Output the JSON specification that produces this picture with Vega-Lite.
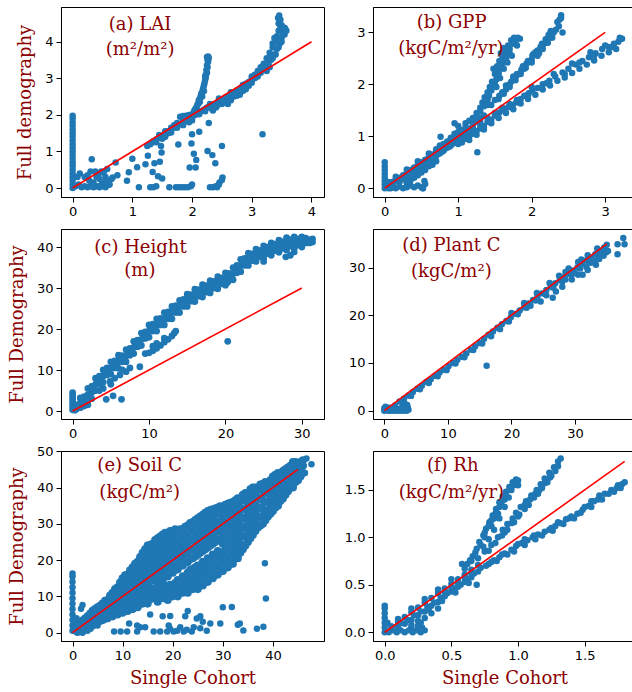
{
"$schema": "https://vega.github.io/schema/vega-lite/v6.json",
"autosize": "none",
"padding": {"left": 61, "top": 7, "right": 571, "bottom": 685},
"background": "white",
"config": {
 "view": {"stroke": "#000", "strokeWidth": 1},
 "axis": {"grid": false, "labelFont": "DejaVu Sans", "labelFontSize": 13, "labelColor": "#000", "tickColor": "#000", "domainColor": "#000", "tickSize": 5, "labelPadding": 3, "titleFont": "DejaVu Serif", "titleFontSize": 18, "titleFontWeight": "normal", "titleColor": "#8b0000", "labelFlush": false, "labelOverlap": false, "labelSeparation": 0},
 "axisX": {"titlePadding": 7, "labelOverlap": false},
 "axisY": {"titlePadding": 10, "labelOverlap": false},
 "axisLeft": {"labelOverlap": false},
 "circle": {"size": 42, "color": "#1f77b4", "opacity": 1},
 "text": {"font": "DejaVu Serif", "fontSize": 18, "color": "#8b0000", "align": "center", "baseline": "middle"},
 "rule": {"color": "#ff0000", "strokeWidth": 1.6}
},
"datasets": {
"a": [
{"x":0,"y":0},{"x":0,"y":0.1},{"x":0,"y":0.2},{"x":0,"y":0.3},{"x":0,"y":0.4},{"x":0,"y":0.5},{"x":0,"y":0.6},{"x":0,"y":0.7},{"x":0,"y":0.8},{"x":0,"y":0.9},{"x":0,"y":1.0},{"x":0,"y":1.1},{"x":0,"y":1.2},{"x":0,"y":1.3},{"x":0,"y":1.4},{"x":0,"y":1.5},{"x":0,"y":1.6},{"x":0,"y":1.7},{"x":0,"y":1.8},{"x":0,"y":1.9},{"x":0,"y":1.98},
{"x":0.12,"y":0.4},{"x":0.15,"y":0.02},{"x":0.2,"y":0.05},{"x":0.25,"y":0.02},{"x":0.3,"y":0.05},{"x":0.35,"y":0.02},{"x":0.4,"y":0.05},{"x":0.45,"y":0.02},{"x":0.5,"y":0.05},{"x":0.55,"y":0.02},{"x":0.6,"y":0.08},{"x":0.25,"y":0.35},{"x":0.3,"y":0.45},{"x":0.32,"y":0.79},{"x":0.35,"y":0.15},{"x":0.4,"y":0.3},{"x":0.43,"y":0.38},{"x":0.45,"y":0.25},{"x":0.5,"y":0.15},{"x":0.55,"y":0.3},{"x":0.58,"y":0.52},{"x":0.57,"y":0.2},{"x":0.62,"y":0.1},{"x":0.65,"y":0.25},{"x":0.67,"y":0.29},{"x":0.72,"y":0.7},{"x":0.75,"y":0.35},{"x":0.46,"y":0.06},{"x":0.2,"y":0.3},{"x":0.38,"y":0.45},{"x":0.48,"y":0.45},{"x":0.52,"y":0.42},{"x":0.1,"y":0.1},{"x":0.05,"y":0.05},{"x":0.08,"y":0.3},{"x":0.28,"y":0.2},
{"x":0.91,"y":0.2},{"x":0.94,"y":0.43},{"x":1.0,"y":0.8},{"x":1.08,"y":0.57},{"x":1.11,"y":0.02},{"x":1.22,"y":0.65},{"x":1.26,"y":0.88},{"x":1.34,"y":0.44},{"x":1.37,"y":0.68},{"x":1.43,"y":0.32},{"x":1.46,"y":0.72},{"x":1.48,"y":1.15},{"x":1.49,"y":0.97},{"x":1.5,"y":0.26},{"x":1.3,"y":0.02},{"x":1.35,"y":0.02},{"x":1.4,"y":0.05},{"x":1.62,"y":0.02},{"x":1.73,"y":0.02},{"x":1.78,"y":0.02},{"x":1.83,"y":0.02},{"x":1.88,"y":0.02},{"x":1.93,"y":0.02},{"x":1.98,"y":0.05},{"x":2.0,"y":0.1},{"x":1.77,"y":1.19},{"x":1.96,"y":0.56},{"x":2.06,"y":0.56},{"x":2.03,"y":0.94},{"x":2.07,"y":0.77},{"x":1.99,"y":1.22},{"x":2.0,"y":1.47},{"x":2.12,"y":1.54},{"x":2.28,"y":1.78},{"x":2.26,"y":1.01},{"x":2.34,"y":0.9},{"x":2.39,"y":0.68},{"x":2.5,"y":1.15},{"x":2.3,"y":0.02},{"x":2.35,"y":0.02},{"x":2.4,"y":0.05},{"x":2.45,"y":0.1},{"x":2.46,"y":0.15},{"x":2.5,"y":0.22},{"x":2.51,"y":0.29},{"x":2.42,"y":0.02},{"x":3.18,"y":1.47},
{"x":1.3,"y":1.2},{"x":1.35,"y":1.28},{"x":1.4,"y":1.33},{"x":1.45,"y":1.38},{"x":1.5,"y":1.42},{"x":1.55,"y":1.5},{"x":1.6,"y":1.55},{"x":1.65,"y":1.6},{"x":1.7,"y":1.65},{"x":1.75,"y":1.7},{"x":1.8,"y":1.75},{"x":1.85,"y":1.8},{"x":1.9,"y":1.85},{"x":1.95,"y":1.88},{"x":1.8,"y":1.95},{"x":1.85,"y":1.97},{"x":1.9,"y":1.98},{"x":1.95,"y":2.0},{"x":2.0,"y":1.9},{"x":2.0,"y":2.0},{"x":1.4,"y":1.25},{"x":1.6,"y":1.5},{"x":1.75,"y":1.65},{"x":1.95,"y":1.8},{"x":2.0,"y":1.85},
{"x":1.45,"y":1.45},{"x":1.55,"y":1.55},{"x":1.65,"y":1.65},{"x":1.7,"y":1.72},{"x":1.75,"y":1.78},{"x":1.85,"y":1.87},{"x":1.9,"y":1.92},{"x":1.5,"y":1.35},{"x":1.65,"y":1.52},{"x":1.85,"y":1.72},{"x":1.25,"y":1.15},{"x":1.35,"y":1.25},{"x":1.55,"y":1.4},
{"x":2.02,"y":2.05},{"x":2.04,"y":2.12},{"x":2.07,"y":2.2},{"x":2.1,"y":2.3},{"x":2.12,"y":2.42},{"x":2.15,"y":2.55},{"x":2.18,"y":2.69},{"x":2.2,"y":2.82},{"x":2.22,"y":2.96},{"x":2.23,"y":3.1},{"x":2.24,"y":3.23},{"x":2.25,"y":3.36},{"x":2.26,"y":3.5},{"x":2.27,"y":3.6},{"x":2.08,"y":2.15},{"x":2.13,"y":2.35},{"x":2.17,"y":2.5},{"x":2.2,"y":2.65},{"x":2.05,"y":2.05},
{"x":2.05,"y":2.15},{"x":2.09,"y":2.28},{"x":2.11,"y":2.38},{"x":2.14,"y":2.48},{"x":2.16,"y":2.6},{"x":2.19,"y":2.75},{"x":2.21,"y":2.88},{"x":2.23,"y":3.02},{"x":2.25,"y":3.15},{"x":2.26,"y":3.3},{"x":2.27,"y":3.45},{"x":2.28,"y":3.55},{"x":2.25,"y":3.58},{"x":2.22,"y":3.05},
{"x":2.05,"y":2.0},{"x":2.1,"y":2.05},{"x":2.15,"y":2.1},{"x":2.2,"y":2.15},{"x":2.25,"y":2.2},{"x":2.3,"y":2.22},{"x":2.35,"y":2.28},{"x":2.4,"y":2.3},{"x":2.45,"y":2.38},{"x":2.5,"y":2.42},{"x":2.55,"y":2.47},{"x":2.6,"y":2.5},{"x":2.65,"y":2.55},{"x":2.7,"y":2.6},{"x":2.75,"y":2.67},{"x":2.8,"y":2.72},{"x":2.85,"y":2.78},{"x":2.9,"y":2.85},{"x":2.95,"y":2.9},{"x":3.0,"y":2.98},{"x":2.35,"y":2.12},{"x":2.55,"y":2.35},{"x":2.6,"y":2.3},{"x":2.75,"y":2.52},{"x":2.8,"y":2.55},{"x":2.85,"y":2.65},{"x":2.95,"y":2.8},{"x":2.5,"y":2.3},{"x":2.7,"y":2.5},
{"x":2.12,"y":2.02},{"x":2.22,"y":2.1},{"x":2.32,"y":2.18},{"x":2.42,"y":2.25},{"x":2.52,"y":2.35},{"x":2.62,"y":2.45},{"x":2.72,"y":2.55},{"x":2.82,"y":2.68},{"x":2.92,"y":2.78},{"x":2.4,"y":2.2},{"x":2.65,"y":2.4},{"x":2.9,"y":2.7},{"x":3.0,"y":2.88},{"x":2.3,"y":2.3},{"x":2.45,"y":2.45},{"x":2.65,"y":2.62},{"x":2.85,"y":2.82},
{"x":3.0,"y":3.05},{"x":3.05,"y":3.1},{"x":3.1,"y":3.2},{"x":3.15,"y":3.3},{"x":3.2,"y":3.4},{"x":3.25,"y":3.55},{"x":3.3,"y":3.7},{"x":3.35,"y":3.85},{"x":3.4,"y":4.0},{"x":3.42,"y":4.15},{"x":3.45,"y":4.3},{"x":3.45,"y":4.5},{"x":3.44,"y":4.65},{"x":3.46,"y":4.72},{"x":3.48,"y":4.6},{"x":3.5,"y":4.45},{"x":3.53,"y":4.3},{"x":3.56,"y":4.35},{"x":3.58,"y":4.3},{"x":3.55,"y":4.2},{"x":3.5,"y":4.1},{"x":3.47,"y":3.95},{"x":3.42,"y":3.8},{"x":3.38,"y":3.65},{"x":3.32,"y":3.5},{"x":3.28,"y":3.4},{"x":3.22,"y":3.28},{"x":3.15,"y":3.15},{"x":3.1,"y":3.05},{"x":3.05,"y":3.0},{"x":3.35,"y":3.55},{"x":3.3,"y":3.3},{"x":3.25,"y":3.2},{"x":3.5,"y":4.0},{"x":3.52,"y":4.2},{"x":3.45,"y":3.85},{"x":3.4,"y":3.65},{"x":3.38,"y":4.1},{"x":3.35,"y":3.95},{"x":3.48,"y":4.4},{"x":3.5,"y":4.3},{"x":3.2,"y":3.3},{"x":3.3,"y":3.55},{"x":3.45,"y":4.1},{"x":3.55,"y":4.38}
],
"b": [
{"x":0,"y":0},{"x":0,"y":0.07},{"x":0,"y":0.14},{"x":0,"y":0.21},{"x":0,"y":0.28},{"x":0,"y":0.35},{"x":0,"y":0.42},{"x":0,"y":0.5},
{"x":0.05,"y":0.0},{"x":0.1,"y":0.02},{"x":0.15,"y":0.0},{"x":0.2,"y":0.03},{"x":0.25,"y":0.0},{"x":0.3,"y":0.02},{"x":0.35,"y":0.05},{"x":0.4,"y":0.02},{"x":0.45,"y":0.05},{"x":0.5,"y":0.02},{"x":0.52,"y":0.0},{"x":0.54,"y":0.14},{"x":0.55,"y":0.08},{"x":0.1,"y":0.08},{"x":0.05,"y":0.12},{"x":0.02,"y":0.03},{"x":0.08,"y":0.0},{"x":0.3,"y":0.1},{"x":0.35,"y":0.15},
{"x":0.1,"y":0.12},{"x":0.15,"y":0.17},{"x":0.2,"y":0.2},{"x":0.25,"y":0.25},{"x":0.3,"y":0.3},{"x":0.35,"y":0.35},{"x":0.4,"y":0.4},{"x":0.45,"y":0.45},{"x":0.5,"y":0.5},{"x":0.55,"y":0.55},{"x":0.6,"y":0.6},{"x":0.65,"y":0.65},{"x":0.7,"y":0.7},{"x":0.75,"y":0.75},{"x":0.8,"y":0.8},{"x":0.85,"y":0.85},{"x":0.9,"y":0.9},{"x":0.95,"y":0.95},{"x":1.0,"y":1.0},{"x":1.05,"y":1.05},{"x":1.1,"y":1.1},{"x":1.15,"y":1.15},
{"x":0.2,"y":0.12},{"x":0.25,"y":0.17},{"x":0.3,"y":0.2},{"x":0.35,"y":0.26},{"x":0.4,"y":0.3},{"x":0.45,"y":0.35},{"x":0.5,"y":0.4},{"x":0.55,"y":0.45},{"x":0.6,"y":0.5},{"x":0.65,"y":0.55},{"x":0.7,"y":0.62},{"x":0.75,"y":0.67},{"x":0.8,"y":0.72},{"x":0.85,"y":0.78},{"x":0.9,"y":0.82},{"x":0.95,"y":0.87},{"x":1.0,"y":0.92},{"x":1.05,"y":0.97},{"x":0.3,"y":0.12},{"x":0.4,"y":0.2},{"x":0.5,"y":0.3},{"x":0.6,"y":0.42},{"x":0.45,"y":0.25},{"x":0.55,"y":0.35},
{"x":0.15,"y":0.22},{"x":0.3,"y":0.36},{"x":0.45,"y":0.52},{"x":0.6,"y":0.67},{"x":0.75,"y":0.82},{"x":0.9,"y":0.97},{"x":1.05,"y":1.12},{"x":0.95,"y":1.25},{"x":1.0,"y":1.2},{"x":1.1,"y":1.25},{"x":1.15,"y":1.3},{"x":1.2,"y":1.25},{"x":0.76,"y":0.99},
{"x":0.12,"y":0.1},{"x":0.22,"y":0.18},{"x":0.32,"y":0.27},{"x":0.42,"y":0.36},{"x":0.52,"y":0.46},{"x":0.62,"y":0.56},{"x":0.72,"y":0.66},{"x":0.82,"y":0.76},{"x":0.92,"y":0.86},{"x":1.02,"y":0.96},{"x":1.12,"y":1.05},{"x":0.65,"y":0.45},{"x":0.7,"y":0.52},{"x":0.5,"y":0.35},{"x":0.85,"y":0.9},{"x":0.95,"y":1.05},{"x":1.1,"y":1.18},{"x":1.2,"y":1.2},{"x":1.25,"y":1.28},{"x":1.3,"y":1.35},{"x":1.35,"y":1.4},{"x":1.3,"y":1.28},
{"x":0.68,"y":0.58},{"x":0.78,"y":0.7},{"x":0.88,"y":0.8},{"x":0.98,"y":0.9},{"x":0.58,"y":0.47},{"x":0.48,"y":0.38},{"x":0.38,"y":0.28},{"x":0.8,"y":0.85},{"x":0.9,"y":0.95},{"x":1.0,"y":1.08},{"x":0.7,"y":0.75},
{"x":1.2,"y":1.35},{"x":1.25,"y":1.45},{"x":1.3,"y":1.55},{"x":1.33,"y":1.65},{"x":1.36,"y":1.75},{"x":1.4,"y":1.85},{"x":1.43,"y":1.95},{"x":1.46,"y":2.05},{"x":1.5,"y":2.2},{"x":1.53,"y":2.35},{"x":1.56,"y":2.45},{"x":1.6,"y":2.55},{"x":1.64,"y":2.65},{"x":1.68,"y":2.75},{"x":1.72,"y":2.85},{"x":1.76,"y":2.9},{"x":1.81,"y":2.9},{"x":1.45,"y":1.9},{"x":1.5,"y":2.05},{"x":1.55,"y":2.25},{"x":1.6,"y":2.4},{"x":1.65,"y":2.5},{"x":1.7,"y":2.6},{"x":1.35,"y":1.6},{"x":1.4,"y":1.7},{"x":1.78,"y":2.8},{"x":1.62,"y":2.7},{"x":1.58,"y":2.6},{"x":1.48,"y":2.3},
{"x":1.25,"y":1.38},{"x":1.3,"y":1.48},{"x":1.35,"y":1.58},{"x":1.38,"y":1.68},{"x":1.42,"y":1.78},{"x":1.45,"y":1.88},{"x":1.49,"y":1.98},{"x":1.52,"y":2.1},{"x":1.55,"y":2.2},{"x":1.58,"y":2.32},{"x":1.62,"y":2.45},{"x":1.66,"y":2.55},{"x":1.7,"y":2.68},{"x":1.74,"y":2.78},{"x":1.78,"y":2.88},{"x":1.52,"y":1.95},{"x":1.57,"y":2.12},{"x":1.62,"y":2.3},{"x":1.67,"y":2.42},{"x":1.73,"y":2.55},{"x":1.8,"y":2.75},{"x":1.84,"y":2.88},
{"x":1.4,"y":1.6},{"x":1.5,"y":1.7},{"x":1.56,"y":1.78},{"x":1.65,"y":1.9},{"x":1.72,"y":2.05},{"x":1.79,"y":2.16},{"x":1.86,"y":2.28},{"x":1.93,"y":2.4},{"x":2.01,"y":2.55},{"x":2.08,"y":2.65},{"x":2.14,"y":2.78},{"x":2.19,"y":2.87},{"x":2.23,"y":2.95},{"x":2.26,"y":3.03},{"x":2.3,"y":3.0},{"x":2.35,"y":3.2},{"x":2.38,"y":3.25},{"x":2.4,"y":3.33},{"x":2.2,"y":2.8},{"x":2.1,"y":2.6},{"x":2.0,"y":2.48},{"x":1.9,"y":2.3},{"x":1.8,"y":2.2},{"x":1.7,"y":2.0},{"x":1.6,"y":1.85},{"x":1.95,"y":2.45},{"x":2.05,"y":2.62},{"x":2.15,"y":2.75},{"x":1.75,"y":2.12},{"x":1.85,"y":2.22},{"x":2.25,"y":2.9},
{"x":1.45,"y":1.6},{"x":1.55,"y":1.72},{"x":1.62,"y":1.82},{"x":1.7,"y":1.95},{"x":1.78,"y":2.08},{"x":1.85,"y":2.2},{"x":1.92,"y":2.32},{"x":2.0,"y":2.42},{"x":2.08,"y":2.55},{"x":2.15,"y":2.68},{"x":2.22,"y":2.8},{"x":2.28,"y":2.9},{"x":2.33,"y":3.05},{"x":2.37,"y":3.12},{"x":1.65,"y":1.98},{"x":1.75,"y":2.15},{"x":1.88,"y":2.35},{"x":2.02,"y":2.58},{"x":2.12,"y":2.72},{"x":2.25,"y":2.98},{"x":2.4,"y":3.28},{"x":2.42,"y":3.0},
{"x":1.1,"y":0.95},{"x":1.15,"y":1.0},{"x":1.2,"y":1.05},{"x":1.25,"y":1.1},{"x":1.3,"y":1.15},{"x":1.35,"y":1.2},{"x":1.4,"y":1.28},{"x":1.45,"y":1.32},{"x":1.5,"y":1.4},{"x":1.56,"y":1.46},{"x":1.62,"y":1.5},{"x":1.68,"y":1.56},{"x":1.74,"y":1.6},{"x":1.79,"y":1.65},{"x":1.85,"y":1.72},{"x":1.9,"y":1.78},{"x":1.96,"y":1.83},{"x":2.01,"y":1.88},{"x":2.08,"y":1.93},{"x":2.15,"y":2.0},{"x":2.24,"y":2.07},{"x":2.32,"y":2.15},{"x":2.42,"y":2.23},{"x":2.5,"y":2.3},{"x":2.6,"y":2.38},{"x":2.69,"y":2.45},{"x":2.78,"y":2.52},{"x":2.87,"y":2.6},{"x":2.96,"y":2.68},{"x":3.05,"y":2.72},{"x":3.12,"y":2.78},{"x":3.18,"y":2.82},{"x":3.23,"y":2.88},{"x":3.1,"y":2.72},{"x":2.85,"y":2.55},{"x":2.65,"y":2.42},{"x":2.45,"y":2.2},{"x":2.2,"y":2.02},{"x":1.95,"y":1.8},{"x":1.7,"y":1.62},{"x":1.5,"y":1.45},{"x":1.3,"y":1.22},{"x":1.2,"y":1.12},{"x":1.0,"y":0.85},{"x":1.05,"y":0.88},
{"x":1.15,"y":0.93},{"x":1.25,"y":1.03},{"x":1.35,"y":1.13},{"x":1.45,"y":1.25},{"x":1.55,"y":1.35},{"x":1.65,"y":1.45},{"x":1.75,"y":1.52},{"x":1.85,"y":1.63},{"x":1.95,"y":1.72},{"x":2.05,"y":1.8},{"x":2.15,"y":1.9},{"x":2.25,"y":1.98},{"x":2.35,"y":2.07},{"x":2.45,"y":2.13},{"x":2.55,"y":2.22},{"x":2.65,"y":2.3},{"x":2.75,"y":2.38},{"x":2.85,"y":2.46},{"x":2.95,"y":2.55},{"x":3.05,"y":2.62},{"x":3.15,"y":2.68},{"x":1.4,"y":1.35},{"x":1.6,"y":1.55},{"x":1.8,"y":1.7},{"x":2.0,"y":1.95},{"x":2.3,"y":2.2},{"x":2.55,"y":2.4},{"x":2.8,"y":2.62},{"x":3.0,"y":2.75},{"x":3.2,"y":2.9},
{"x":1.26,"y":0.69},{"x":0.52,"y":0.0}
],
"c": [
{"x":0,"y":0.3},{"x":0,"y":1},{"x":0,"y":1.8},{"x":0,"y":2.5},{"x":0,"y":3.2},{"x":0,"y":3.9},{"x":0,"y":4.5},
{"x":0.5,"y":0.5},{"x":1,"y":0.8},{"x":1.5,"y":1.2},{"x":2,"y":1.5},{"x":1,"y":2},{"x":1.5,"y":3.5},{"x":2,"y":5.5},{"x":1.2,"y":1.5},{"x":0.5,"y":1.5},{"x":1,"y":3.2},{"x":0.3,"y":0.2},{"x":1.8,"y":2.5},{"x":2.5,"y":3},
{"x":2,"y":2.6},{"x":2,"y":4},{"x":2.5,"y":4.5},{"x":2.5,"y":6},
{"x":3,"y":5},{"x":3,"y":6.5},{"x":3,"y":8},{"x":3.5,"y":6.7},{"x":3.5,"y":8.5},
{"x":4,"y":7},{"x":4,"y":8.5},{"x":4,"y":10},{"x":4.5,"y":8.8},{"x":4.5,"y":10.5},
{"x":5,"y":9},{"x":5,"y":10.5},{"x":5,"y":12},{"x":5.5,"y":10.5},{"x":5.5,"y":12.2},
{"x":6,"y":10.4},{"x":6,"y":12},{"x":6,"y":13.6},{"x":6.5,"y":12},{"x":6.5,"y":13.5},
{"x":7,"y":12},{"x":7,"y":13.5},{"x":7,"y":15},{"x":7.5,"y":13.6},{"x":7.5,"y":15.3},
{"x":8,"y":14},{"x":8,"y":15.5},{"x":8,"y":17},{"x":8.5,"y":15.7},{"x":8.5,"y":17.3},
{"x":9,"y":16},{"x":9,"y":17.5},{"x":9,"y":19},{"x":9.5,"y":17.7},{"x":9.5,"y":19.3},
{"x":10,"y":18},{"x":10,"y":19.5},{"x":10,"y":21},{"x":10.5,"y":19.5},{"x":10.5,"y":21.2},
{"x":11,"y":19.5},{"x":11,"y":21},{"x":11,"y":22.5},{"x":11.5,"y":21},{"x":11.5,"y":22.6},
{"x":12,"y":21},{"x":12,"y":22.5},{"x":12,"y":24},{"x":12.5,"y":22.5},{"x":12.5,"y":24.2},
{"x":13,"y":22.5},{"x":13,"y":24},{"x":13,"y":25.5},{"x":13.5,"y":24},{"x":13.5,"y":25.7},
{"x":14,"y":24},{"x":14,"y":25.5},{"x":14,"y":27},{"x":14.5,"y":25.5},{"x":14.5,"y":27.2},
{"x":15,"y":25.5},{"x":15,"y":27},{"x":15,"y":28.5},{"x":15.5,"y":26.8},{"x":15.5,"y":28.4},
{"x":16,"y":26.7},{"x":16,"y":28.2},{"x":16,"y":29.7},{"x":16.5,"y":28},{"x":16.5,"y":29.6},
{"x":17,"y":27.8},{"x":17,"y":29.3},{"x":17,"y":30.8},{"x":17.5,"y":29},{"x":17.5,"y":30.6},
{"x":18,"y":28.8},{"x":18,"y":30.3},{"x":18,"y":31.8},{"x":18.5,"y":30},{"x":18.5,"y":31.6},
{"x":19,"y":29.8},{"x":19,"y":31.3},{"x":19,"y":32.8},{"x":19.5,"y":31},{"x":19.5,"y":32.5},
{"x":20,"y":30.7},{"x":20,"y":32.2},{"x":20,"y":33.7},{"x":20.5,"y":32},{"x":20.5,"y":33.6},
{"x":21,"y":32},{"x":21,"y":33.5},{"x":21,"y":35},{"x":21.5,"y":33.7},{"x":21.5,"y":35.5},
{"x":22,"y":34},{"x":22,"y":35.5},{"x":22,"y":37},{"x":22.5,"y":35.5},{"x":22.5,"y":37.2},
{"x":23,"y":35.5},{"x":23,"y":37},{"x":23,"y":38.5},{"x":23.5,"y":36.7},{"x":23.5,"y":38.3},
{"x":24,"y":36.5},{"x":24,"y":38},{"x":24,"y":39.5},{"x":24.5,"y":37.6},{"x":24.5,"y":39.2},
{"x":25,"y":37.3},{"x":25,"y":38.8},{"x":25,"y":40.3},{"x":25.5,"y":38.4},{"x":25.5,"y":40},
{"x":26,"y":38},{"x":26,"y":39.5},{"x":26,"y":41},{"x":26.5,"y":39.1},{"x":26.5,"y":40.7},
{"x":27,"y":38.7},{"x":27,"y":40.2},{"x":27,"y":41.7},{"x":27.5,"y":39.7},{"x":27.5,"y":41.3},
{"x":28,"y":39.3},{"x":28,"y":40.8},{"x":28,"y":42.3},{"x":28.5,"y":40.2},{"x":28.5,"y":41.8},
{"x":29,"y":39.7},{"x":29,"y":41.2},{"x":29,"y":42.5},{"x":29.5,"y":40.5},{"x":29.5,"y":42},
{"x":30,"y":40},{"x":30,"y":41.5},{"x":30,"y":42.5},{"x":30.5,"y":41},{"x":30.5,"y":42.2},
{"x":31,"y":41},{"x":31,"y":41.8},{"x":31.4,"y":42},{"x":31.4,"y":41.2},
{"x":3.25,"y":7.3},{"x":4.25,"y":9.3},{"x":5.25,"y":11.3},{"x":6.25,"y":12.8},{"x":7.25,"y":14.3},{"x":8.25,"y":16.3},{"x":9.25,"y":18.3},{"x":10.25,"y":20.2},{"x":11.25,"y":21.8},{"x":12.25,"y":23.3},{"x":13.25,"y":24.8},{"x":14.25,"y":26.3},{"x":15.25,"y":27.7},{"x":16.25,"y":28.9},{"x":17.25,"y":29.9},{"x":18.25,"y":30.9},{"x":19.25,"y":31.8},{"x":20.25,"y":32.9},{"x":21.25,"y":34.5},{"x":22.25,"y":36.3},{"x":23.25,"y":37.5},{"x":24.25,"y":38.4},{"x":25.25,"y":39.2},{"x":26.25,"y":39.9},{"x":27.25,"y":40.5},{"x":28.25,"y":41.1},{"x":29.25,"y":41.4},{"x":30.25,"y":41.8},
{"x":3.75,"y":7.2},{"x":4.75,"y":9.2},{"x":5.75,"y":10.8},{"x":6.75,"y":12.4},{"x":7.75,"y":14},{"x":8.75,"y":16},{"x":9.75,"y":18},{"x":10.75,"y":19.8},{"x":11.75,"y":21.3},{"x":12.75,"y":22.8},{"x":13.75,"y":24.3},{"x":14.75,"y":25.8},{"x":15.75,"y":27.2},{"x":16.75,"y":28.4},{"x":17.75,"y":29.4},{"x":18.75,"y":30.4},{"x":19.75,"y":31.4},{"x":20.75,"y":32.5},{"x":21.75,"y":34.2},{"x":22.75,"y":35.9},{"x":23.75,"y":37.1},{"x":24.75,"y":38},{"x":25.75,"y":38.8},{"x":26.75,"y":39.5},{"x":27.75,"y":40.2},{"x":28.75,"y":40.7},{"x":29.75,"y":41},
{"x":27.9,"y":37.6},{"x":29,"y":38.8},{"x":25,"y":36.5},{"x":28.5,"y":38},{"x":20.3,"y":31.4},{"x":20.3,"y":17},{"x":8.8,"y":10.8},{"x":4.4,"y":2.85},{"x":5.3,"y":3.7},{"x":6.4,"y":2.85},
{"x":9.5,"y":14},{"x":10,"y":14.2},{"x":10.5,"y":14.7},{"x":11,"y":15.3},{"x":11.5,"y":16},{"x":12,"y":16.8},{"x":12.5,"y":17.5},{"x":13,"y":18.3},{"x":13.3,"y":19},{"x":13.5,"y":19.5},{"x":11,"y":16.5},{"x":12,"y":17.8},{"x":10.5,"y":15.8},
{"x":3.6,"y":7.2},{"x":4.9,"y":7.2},{"x":5.5,"y":8},{"x":6.2,"y":8.8},{"x":7,"y":9.6},{"x":7.5,"y":10.5},{"x":6.5,"y":10},{"x":4,"y":5.5},{"x":3.5,"y":5},{"x":5,"y":6.5}
],
"d": [
{"x":1,"y":0.6},{"x":1.7,"y":1.1},{"x":2.4,"y":1.9},{"x":3.1,"y":2.5},{"x":3.8,"y":3.2},{"x":4.5,"y":3.9},{"x":5.2,"y":4.6},{"x":5.9,"y":5.2},{"x":6.6,"y":6.0},{"x":7.3,"y":6.6},{"x":8,"y":7.3},{"x":8.7,"y":8.0},{"x":9.4,"y":8.6},{"x":10.1,"y":9.3},{"x":10.8,"y":10.0},{"x":11.5,"y":10.7},{"x":12.2,"y":11.3},{"x":12.9,"y":12.0},{"x":13.6,"y":12.8},{"x":14.3,"y":13.5},{"x":15,"y":14.2},{"x":15.7,"y":15.1},{"x":16.4,"y":15.9},{"x":17.1,"y":16.6},{"x":17.8,"y":17.4},{"x":18.5,"y":18.1},{"x":19.2,"y":18.8},{"x":19.9,"y":19.6},{"x":20.6,"y":20.3},{"x":21.3,"y":21.0},{"x":22,"y":21.7},{"x":22.7,"y":22.5},{"x":23.4,"y":23.2},{"x":24.1,"y":23.9},{"x":24.8,"y":24.6},{"x":25.5,"y":25.3},{"x":26.2,"y":26.0},{"x":26.9,"y":26.7},{"x":27.6,"y":27.4},{"x":28.3,"y":28.0},{"x":29,"y":28.7},{"x":29.7,"y":29.4},{"x":30.4,"y":30.1},{"x":31.1,"y":30.8},{"x":31.8,"y":31.5},{"x":32.5,"y":32.1},{"x":33.2,"y":32.8},{"x":33.9,"y":33.5},{"x":34.6,"y":34.2},{"x":35,"y":34.8},
{"x":1.4,"y":0.5},{"x":2.8,"y":1.8},{"x":4.2,"y":3.1},{"x":5.6,"y":4.5},{"x":7,"y":5.8},{"x":8.4,"y":7.2},{"x":9.8,"y":8.5},{"x":11.2,"y":9.9},{"x":12.6,"y":11.2},{"x":14,"y":12.7},{"x":15.4,"y":14.1},{"x":16.8,"y":15.6},{"x":18.2,"y":17.1},{"x":19.6,"y":18.7},{"x":21,"y":20.2},{"x":22.4,"y":21.6},{"x":23.8,"y":23.1},{"x":25.2,"y":24.5},{"x":26.6,"y":25.8},{"x":28,"y":27.1},{"x":29.4,"y":28.5},{"x":30.8,"y":29.8},{"x":32.2,"y":31.2},{"x":33.6,"y":32.6},{"x":34.3,"y":33.5},
{"x":20,"y":20.5},{"x":22,"y":22.6},{"x":24,"y":24.7},{"x":26,"y":26.8},{"x":27.5,"y":28.3},{"x":29,"y":29.8},{"x":30.5,"y":31.2},{"x":32,"y":32.6},{"x":33.5,"y":34},{"x":31,"y":31.7},{"x":28.5,"y":29.1},
{"x":24.6,"y":22.9},{"x":26.5,"y":23.7},{"x":27,"y":25},{"x":28,"y":26},{"x":28.5,"y":27.5},{"x":29.5,"y":27.5},{"x":30.5,"y":28.5},{"x":31.2,"y":28.5},{"x":32,"y":29.5},{"x":33.3,"y":30.6},{"x":32.5,"y":31},{"x":33,"y":31.5},{"x":34,"y":33},{"x":34.5,"y":32.5},{"x":35.2,"y":33.5},{"x":34.9,"y":33.2},{"x":36.7,"y":32.8},{"x":36.7,"y":34.9},{"x":37.8,"y":34.9},{"x":37.6,"y":36.2},{"x":23,"y":22},{"x":25.5,"y":24.2},{"x":30,"y":28.8},{"x":31.8,"y":30.2},{"x":33.8,"y":31.8},
{"x":16.1,"y":9.4},
{"x":0,"y":0},{"x":0,"y":0.5},{"x":0.3,"y":0.2},{"x":0.6,"y":0},{"x":1,"y":0},{"x":1.5,"y":0},{"x":2,"y":0},{"x":2.5,"y":0},{"x":3,"y":0},{"x":3.5,"y":0},{"x":3.8,"y":0.2},{"x":3.7,"y":0.6},{"x":3.6,"y":1.2},{"x":3.2,"y":1.5},{"x":2.8,"y":0.7},{"x":1.2,"y":0.3},{"x":0.5,"y":0.6},{"x":0.2,"y":0.8},{"x":2.2,"y":0.3},{"x":3.3,"y":0.4}
],
"eo": [
{"x":0,"y":0.5},{"x":0,"y":2},{"x":0,"y":3.5},{"x":0,"y":5},{"x":0,"y":6.5},{"x":0,"y":8},{"x":0,"y":9.5},{"x":0,"y":11},{"x":0,"y":12.5},{"x":0,"y":14},{"x":0,"y":15.5},{"x":0,"y":16.3},
{"x":0.5,"y":0.5},{"x":1,"y":1},{"x":1,"y":2.5},{"x":1.5,"y":0.5},{"x":2,"y":0},{"x":3,"y":0.5},{"x":0.8,"y":4},{"x":0.5,"y":3},
{"x":46.7,"y":48},{"x":47.7,"y":46.4},{"x":46.4,"y":44},{"x":34.8,"y":28.8},{"x":35.4,"y":28.3},{"x":33.8,"y":31.6},{"x":36,"y":27.5},
{"x":8.3,"y":0.3},{"x":9.6,"y":0.3},{"x":10.9,"y":0.3},{"x":12.9,"y":0.3},{"x":13.5,"y":1.5},{"x":16.2,"y":0.3},{"x":17.5,"y":0.3},{"x":18.9,"y":0.3},{"x":19.5,"y":1},{"x":20.2,"y":0.3},{"x":20.9,"y":0.5},{"x":22.2,"y":0.3},{"x":22.8,"y":0.8},{"x":23.8,"y":0.3},{"x":24.2,"y":1.5},{"x":25.5,"y":1.2},{"x":26.8,"y":0.5},{"x":11.3,"y":2.5},{"x":12.9,"y":2},{"x":19.2,"y":2},{"x":19.5,"y":4.6},{"x":24.8,"y":3.9},{"x":25.5,"y":4.5},{"x":23,"y":6},{"x":22.5,"y":4.5},{"x":18,"y":4.5},{"x":15.5,"y":5},{"x":29.5,"y":2.5},{"x":31.8,"y":7.1},{"x":33.4,"y":2.5},{"x":34.1,"y":0.6},{"x":36.8,"y":1.1},{"x":38.1,"y":1.6},{"x":38.6,"y":9.4},{"x":38.4,"y":19.1},{"x":2,"y":7.6},{"x":1.7,"y":6.6},{"x":5,"y":2},{"x":3.6,"y":1.1},{"x":30,"y":7},{"x":33,"y":2.2},{"x":27.5,"y":2.5},{"x":26,"y":3},{"x":14.5,"y":1.5},{"x":21.5,"y":1.5}
],
"e": [
{"x":1,"y":0.2},{"x":1,"y":1.5},{"x":2,"y":0.5},{"x":2,"y":2},{"x":2,"y":3.3},{"x":3,"y":1.5},{"x":3,"y":3},{"x":3,"y":4.5},{"x":4,"y":2},{"x":4,"y":4},{"x":4,"y":6},{"x":5,"y":3},{"x":5,"y":5},{"x":5,"y":7},{"x":6,"y":3.5},{"x":6,"y":5.7},{"x":6,"y":8},{"x":7,"y":4},{"x":7,"y":6.5},{"x":7,"y":9},{"x":8,"y":4.5},{"x":8,"y":7},{"x":8,"y":9.5},{"x":8,"y":11},{"x":9,"y":5},{"x":9,"y":7.5},{"x":9,"y":10},{"x":9,"y":12.5},
{"x":10,"y":5.5},{"x":10,"y":8},{"x":10,"y":10.5},{"x":10,"y":13},{"x":10,"y":15},{"x":11,"y":6},{"x":11,"y":8.5},{"x":11,"y":11},{"x":11,"y":13.5},{"x":11,"y":16},{"x":12,"y":6.5},{"x":12,"y":9},{"x":12,"y":11.5},{"x":12,"y":14},{"x":12,"y":16.5},{"x":12,"y":18},{"x":13,"y":7},{"x":13,"y":9.5},{"x":13,"y":12},{"x":13,"y":14.5},{"x":13,"y":17},{"x":13,"y":19.5},
{"x":14,"y":8},{"x":14,"y":10.5},{"x":14,"y":13},{"x":14,"y":15.5},{"x":14,"y":18},{"x":14,"y":20.5},{"x":14,"y":22},{"x":15,"y":8},{"x":15,"y":10.5},{"x":15,"y":13},{"x":15,"y":15.5},{"x":15,"y":18},{"x":15,"y":20.5},{"x":15,"y":23},{"x":15,"y":24},{"x":16,"y":9.5},{"x":16,"y":12},{"x":16,"y":14.5},{"x":16,"y":17},{"x":16,"y":19.5},{"x":16,"y":22},{"x":16,"y":24.5},
{"x":17,"y":8.5},{"x":17,"y":10.5},{"x":17,"y":13.5},{"x":17,"y":16},{"x":17,"y":18.5},{"x":17,"y":21},{"x":17,"y":23.5},{"x":17,"y":26},{"x":18,"y":9.5},{"x":18,"y":11.5},{"x":18,"y":14.5},{"x":18,"y":17},{"x":18,"y":19.5},{"x":18,"y":22},{"x":18,"y":24.5},{"x":18,"y":27},{"x":19,"y":9},{"x":19,"y":11.5},{"x":19,"y":15.5},{"x":19,"y":18},{"x":19,"y":20.5},{"x":19,"y":23},{"x":19,"y":25.5},{"x":19,"y":27.5},
{"x":20,"y":10},{"x":20,"y":12.5},{"x":20,"y":16.5},{"x":20,"y":19},{"x":20,"y":21.5},{"x":20,"y":24},{"x":20,"y":26.5},{"x":20,"y":28},{"x":21,"y":10},{"x":21,"y":12.5},{"x":21,"y":14.5},{"x":21,"y":17.5},{"x":21,"y":20},{"x":21,"y":22.5},{"x":21,"y":25},{"x":21,"y":27.5},{"x":22,"y":11},{"x":22,"y":13.5},{"x":22,"y":15.5},{"x":22,"y":18.5},{"x":22,"y":21},{"x":22,"y":23.5},{"x":22,"y":26},{"x":22,"y":28.5},
{"x":23,"y":11},{"x":23,"y":13.5},{"x":23,"y":16.5},{"x":23,"y":19.5},{"x":23,"y":22},{"x":23,"y":24.5},{"x":23,"y":27},{"x":23,"y":29.5},{"x":24,"y":12},{"x":24,"y":14.5},{"x":24,"y":17.5},{"x":24,"y":20.5},{"x":24,"y":23},{"x":24,"y":25.5},{"x":24,"y":28},{"x":24,"y":30.5},{"x":25,"y":12},{"x":25,"y":14.5},{"x":25,"y":17},{"x":25,"y":18.5},{"x":25,"y":21.5},{"x":25,"y":24},{"x":25,"y":26.5},{"x":25,"y":29},{"x":25,"y":31.5},
{"x":26,"y":13},{"x":26,"y":15.5},{"x":26,"y":18},{"x":26,"y":19.5},{"x":26,"y":22.5},{"x":26,"y":25},{"x":26,"y":27.5},{"x":26,"y":30},{"x":26,"y":32.5},{"x":27,"y":14},{"x":27,"y":16.5},{"x":27,"y":19},{"x":27,"y":20.5},{"x":27,"y":23.5},{"x":27,"y":26},{"x":27,"y":28.5},{"x":27,"y":31},{"x":27,"y":33.5},{"x":28,"y":15},{"x":28,"y":17.5},{"x":28,"y":20},{"x":28,"y":21.5},{"x":28,"y":24.5},{"x":28,"y":27},{"x":28,"y":29.5},{"x":28,"y":32},{"x":28,"y":34},
{"x":29,"y":16},{"x":29,"y":18.5},{"x":29,"y":21},{"x":29,"y":22.5},{"x":29,"y":25.5},{"x":29,"y":28},{"x":29,"y":30.5},{"x":29,"y":33},{"x":29,"y":34.5},{"x":30,"y":17},{"x":30,"y":19.5},{"x":30,"y":22},{"x":30,"y":24.5},{"x":30,"y":27},{"x":30,"y":29.5},{"x":30,"y":32},{"x":30,"y":34.5},{"x":31,"y":18},{"x":31,"y":20.5},{"x":31,"y":23},{"x":31,"y":25.5},{"x":31,"y":28},{"x":31,"y":30.5},{"x":31,"y":33},{"x":31,"y":35.5},
{"x":32,"y":19},{"x":32,"y":21.5},{"x":32,"y":24},{"x":32,"y":26.5},{"x":32,"y":29},{"x":32,"y":31.5},{"x":32,"y":34},{"x":32,"y":36},{"x":33,"y":20.5},{"x":33,"y":22.5},{"x":33,"y":25},{"x":33,"y":27.5},{"x":33,"y":30},{"x":33,"y":32.5},{"x":33,"y":35},{"x":33,"y":37},{"x":34,"y":23},{"x":34,"y":26.5},{"x":34,"y":29},{"x":34,"y":31.5},{"x":34,"y":34},{"x":34,"y":36.5},{"x":34,"y":38},
{"x":35,"y":25},{"x":35,"y":28},{"x":35,"y":30.5},{"x":35,"y":33},{"x":35,"y":35.5},{"x":35,"y":38},{"x":36,"y":27},{"x":36,"y":30},{"x":36,"y":32.5},{"x":36,"y":35},{"x":36,"y":37.5},{"x":36,"y":40},{"x":37,"y":29},{"x":37,"y":32},{"x":37,"y":34.5},{"x":37,"y":37},{"x":37,"y":39.5},{"x":38,"y":30},{"x":38,"y":31.5},{"x":38,"y":34},{"x":38,"y":36.5},{"x":38,"y":39},{"x":38,"y":41},
{"x":39,"y":32},{"x":39,"y":33.5},{"x":39,"y":36},{"x":39,"y":38.5},{"x":39,"y":41},{"x":40,"y":33.5},{"x":40,"y":35.5},{"x":40,"y":38},{"x":40,"y":40.5},{"x":40,"y":43},{"x":41,"y":35},{"x":41,"y":37.5},{"x":41,"y":40},{"x":41,"y":42.5},{"x":41,"y":44},{"x":42,"y":37},{"x":42,"y":39.5},{"x":42,"y":42},{"x":42,"y":44.5},{"x":43,"y":39},{"x":43,"y":41.5},{"x":43,"y":44},{"x":43,"y":45.5},
{"x":44,"y":40},{"x":44,"y":42.5},{"x":44,"y":45},{"x":44,"y":47},{"x":45,"y":42},{"x":45,"y":44.5},{"x":45,"y":46.5},{"x":46,"y":44},{"x":46,"y":46},{"x":46,"y":47.5},
{"x":0.5,"y":0.8},{"x":1.5,"y":0.8},{"x":1.5,"y":2.2},{"x":2.5,"y":1.2},{"x":2.5,"y":2.6},{"x":2.5,"y":3.9},{"x":3.5,"y":1.7},{"x":3.5,"y":3.5},{"x":3.5,"y":5.2},{"x":4.5,"y":2.5},{"x":4.5,"y":4.5},{"x":4.5,"y":6.5},{"x":5.5,"y":3.2},{"x":5.5,"y":5.2},{"x":5.5,"y":7.4},{"x":6.5,"y":3.8},{"x":6.5,"y":4.9},{"x":6.5,"y":7.2},{"x":6.5,"y":8.8},{"x":7.5,"y":5.3},{"x":7.5,"y":7.8},{"x":7.5,"y":10.2},{"x":8.5,"y":5.8},{"x":8.5,"y":8.3},{"x":8.5,"y":10.8},{"x":8.5,"y":12},{"x":9.5,"y":6.3},{"x":9.5,"y":8.8},{"x":9.5,"y":11.3},{"x":9.5,"y":13.8},
{"x":10.5,"y":7},{"x":10.5,"y":9.5},{"x":10.5,"y":12},{"x":10.5,"y":14.5},{"x":10.5,"y":15.8},{"x":11.5,"y":7.3},{"x":11.5,"y":9.8},{"x":11.5,"y":12.3},{"x":11.5,"y":14.8},{"x":11.5,"y":17.2},{"x":12.5,"y":8},{"x":12.5,"y":10.5},{"x":12.5,"y":13},{"x":12.5,"y":15.5},{"x":12.5,"y":18},{"x":12.5,"y":19},{"x":13.5,"y":8.3},{"x":13.5,"y":10.8},{"x":13.5,"y":13.3},{"x":13.5,"y":15.8},{"x":13.5,"y":18.3},{"x":13.5,"y":20.8},
{"x":14.5,"y":9},{"x":14.5,"y":11.5},{"x":14.5,"y":14},{"x":14.5,"y":16.5},{"x":14.5,"y":19},{"x":14.5,"y":21.5},{"x":14.5,"y":23},{"x":15.5,"y":9.2},{"x":15.5,"y":11.7},{"x":15.5,"y":14.2},{"x":15.5,"y":16.7},{"x":15.5,"y":19.2},{"x":15.5,"y":21.7},{"x":15.5,"y":24.2},{"x":16.5,"y":10},{"x":16.5,"y":12.3},{"x":16.5,"y":15.5},{"x":16.5,"y":18},{"x":16.5,"y":20.5},{"x":16.5,"y":23},{"x":16.5,"y":25.5},
{"x":17.5,"y":10},{"x":17.5,"y":12.5},{"x":17.5,"y":15.2},{"x":17.5,"y":17.7},{"x":17.5,"y":20.2},{"x":17.5,"y":22.7},{"x":17.5,"y":25.2},{"x":17.5,"y":26.5},{"x":18.5,"y":10.5},{"x":18.5,"y":13},{"x":18.5,"y":16.3},{"x":18.5,"y":18.8},{"x":18.5,"y":21.3},{"x":18.5,"y":23.8},{"x":18.5,"y":26.3},{"x":18.5,"y":27.5},{"x":19.5,"y":10.5},{"x":19.5,"y":13.2},{"x":19.5,"y":16.8},{"x":19.5,"y":19.3},{"x":19.5,"y":21.8},{"x":19.5,"y":24.3},{"x":19.5,"y":26.8},{"x":19.5,"y":28},
{"x":20.5,"y":11.2},{"x":20.5,"y":13.7},{"x":20.5,"y":17.3},{"x":20.5,"y":19.8},{"x":20.5,"y":22.3},{"x":20.5,"y":24.8},{"x":20.5,"y":27.3},{"x":20.5,"y":28.5},{"x":21.5,"y":11.5},{"x":21.5,"y":14},{"x":21.5,"y":18.5},{"x":21.5,"y":21},{"x":21.5,"y":23.5},{"x":21.5,"y":26},{"x":21.5,"y":28.5},{"x":22.5,"y":12},{"x":22.5,"y":14.7},{"x":22.5,"y":19.3},{"x":22.5,"y":21.8},{"x":22.5,"y":24.3},{"x":22.5,"y":26.8},{"x":22.5,"y":29.2},
{"x":23.5,"y":12.3},{"x":23.5,"y":15},{"x":23.5,"y":17.3},{"x":23.5,"y":20.3},{"x":23.5,"y":22.8},{"x":23.5,"y":25.3},{"x":23.5,"y":27.8},{"x":23.5,"y":30.2},{"x":24.5,"y":13},{"x":24.5,"y":15.5},{"x":24.5,"y":18},{"x":24.5,"y":21},{"x":24.5,"y":23.5},{"x":24.5,"y":26},{"x":24.5,"y":28.5},{"x":24.5,"y":31},{"x":25.5,"y":13.3},{"x":25.5,"y":16},{"x":25.5,"y":18.5},{"x":25.5,"y":22},{"x":25.5,"y":24.5},{"x":25.5,"y":27},{"x":25.5,"y":29.5},{"x":25.5,"y":32},
{"x":26.5,"y":14},{"x":26.5,"y":16.7},{"x":26.5,"y":19.2},{"x":26.5,"y":23},{"x":26.5,"y":25.5},{"x":26.5,"y":28},{"x":26.5,"y":30.5},{"x":26.5,"y":33},{"x":27.5,"y":15},{"x":27.5,"y":17.5},{"x":27.5,"y":20},{"x":27.5,"y":24},{"x":27.5,"y":26.5},{"x":27.5,"y":29},{"x":27.5,"y":31.5},{"x":27.5,"y":33.8},{"x":28.5,"y":16},{"x":28.5,"y":18.5},{"x":28.5,"y":21},{"x":28.5,"y":25},{"x":28.5,"y":27.5},{"x":28.5,"y":30},{"x":28.5,"y":32.5},{"x":28.5,"y":34.2},
{"x":29.5,"y":17},{"x":29.5,"y":19.5},{"x":29.5,"y":22},{"x":29.5,"y":25.7},{"x":29.5,"y":28.2},{"x":29.5,"y":30.7},{"x":29.5,"y":33.2},{"x":29.5,"y":34.8},{"x":30.5,"y":18},{"x":30.5,"y":20.5},{"x":30.5,"y":23},{"x":30.5,"y":25.5},{"x":30.5,"y":28},{"x":30.5,"y":30.5},{"x":30.5,"y":33},{"x":30.5,"y":35.2},{"x":31.5,"y":19},{"x":31.5,"y":21.5},{"x":31.5,"y":24},{"x":31.5,"y":26.5},{"x":31.5,"y":29},{"x":31.5,"y":31.5},{"x":31.5,"y":34},{"x":31.5,"y":35.8},
{"x":32.5,"y":20.5},{"x":32.5,"y":23},{"x":32.5,"y":25.5},{"x":32.5,"y":28},{"x":32.5,"y":30.5},{"x":32.5,"y":33},{"x":32.5,"y":35.5},{"x":32.5,"y":36.5},{"x":33.5,"y":22},{"x":33.5,"y":24.5},{"x":33.5,"y":27},{"x":33.5,"y":29.5},{"x":33.5,"y":32},{"x":33.5,"y":34.5},{"x":33.5,"y":37},{"x":34.5,"y":24},{"x":34.5,"y":26.5},{"x":34.5,"y":29},{"x":34.5,"y":31.5},{"x":34.5,"y":34},{"x":34.5,"y":36.5},{"x":34.5,"y":38.5},
{"x":35.5,"y":26},{"x":35.5,"y":28.5},{"x":35.5,"y":31},{"x":35.5,"y":33.5},{"x":35.5,"y":36},{"x":35.5,"y":38.5},{"x":35.5,"y":39.5},{"x":36.5,"y":28},{"x":36.5,"y":30.5},{"x":36.5,"y":33},{"x":36.5,"y":35.5},{"x":36.5,"y":38},{"x":36.5,"y":40},{"x":37.5,"y":29.5},{"x":37.5,"y":32},{"x":37.5,"y":34.5},{"x":37.5,"y":37},{"x":37.5,"y":39.5},{"x":37.5,"y":40.8},{"x":38.5,"y":31},{"x":38.5,"y":33.5},{"x":38.5,"y":36},{"x":38.5,"y":38.5},{"x":38.5,"y":40.5},{"x":38.5,"y":41.5},
{"x":39.5,"y":32.8},{"x":39.5,"y":35},{"x":39.5,"y":37.5},{"x":39.5,"y":40},{"x":39.5,"y":42},{"x":40.5,"y":34.5},{"x":40.5,"y":37},{"x":40.5,"y":39.5},{"x":40.5,"y":42},{"x":40.5,"y":43.5},{"x":41.5,"y":36.3},{"x":41.5,"y":38.8},{"x":41.5,"y":41.3},{"x":41.5,"y":43.5},{"x":42.5,"y":38},{"x":42.5,"y":40.5},{"x":42.5,"y":43},{"x":42.5,"y":45},{"x":43.5,"y":40},{"x":43.5,"y":42.5},{"x":43.5,"y":45},{"x":43.5,"y":46},{"x":44.5,"y":41.5},{"x":44.5,"y":43.5},{"x":44.5,"y":45.5},{"x":44.5,"y":47},{"x":45.5,"y":43},{"x":45.5,"y":45.5},{"x":45.5,"y":47}
],
"f": [
{"x":0,"y":0},{"x":0,"y":0.05},{"x":0,"y":0.1},{"x":0,"y":0.15},{"x":0,"y":0.2},{"x":0,"y":0.25},{"x":0,"y":0.28},
{"x":0.03,"y":0},{"x":0.06,"y":0.02},{"x":0.09,"y":0},{"x":0.12,"y":0.02},{"x":0.15,"y":0},{"x":0.18,"y":0.02},{"x":0.21,"y":0},{"x":0.24,"y":0.02},{"x":0.27,"y":0},{"x":0.3,"y":0.02},{"x":0.28,"y":0.05},{"x":0.25,"y":0.07},{"x":0.05,"y":0.06},{"x":0.02,"y":0.1},{"x":0.1,"y":0.07},{"x":0.2,"y":0.05},{"x":0.27,"y":0.1},
{"x":0.05,"y":0.06},{"x":0.1,"y":0.11},{"x":0.15,"y":0.16},{"x":0.2,"y":0.21},{"x":0.25,"y":0.26},{"x":0.3,"y":0.31},{"x":0.35,"y":0.36},{"x":0.4,"y":0.41},{"x":0.45,"y":0.46},{"x":0.5,"y":0.51},{"x":0.55,"y":0.56},{"x":0.6,"y":0.61},{"x":0.65,"y":0.66},{"x":0.7,"y":0.71},
{"x":0.1,"y":0.05},{"x":0.15,"y":0.09},{"x":0.2,"y":0.13},{"x":0.25,"y":0.18},{"x":0.3,"y":0.22},{"x":0.35,"y":0.28},{"x":0.4,"y":0.32},{"x":0.45,"y":0.38},{"x":0.5,"y":0.43},{"x":0.55,"y":0.48},{"x":0.6,"y":0.53},{"x":0.65,"y":0.58},{"x":0.7,"y":0.64},{"x":0.2,"y":0.08},{"x":0.3,"y":0.15},{"x":0.35,"y":0.2},{"x":0.25,"y":0.12},{"x":0.4,"y":0.25},
{"x":0.1,"y":0.14},{"x":0.2,"y":0.25},{"x":0.3,"y":0.35},{"x":0.4,"y":0.45},{"x":0.5,"y":0.56},{"x":0.6,"y":0.67},{"x":0.58,"y":0.72},{"x":0.65,"y":0.75},{"x":0.7,"y":0.78},
{"x":0.12,"y":0.1},{"x":0.22,"y":0.18},{"x":0.32,"y":0.27},{"x":0.42,"y":0.36},{"x":0.52,"y":0.46},{"x":0.62,"y":0.56},{"x":0.67,"y":0.62},{"x":0.57,"y":0.5},{"x":0.47,"y":0.41},{"x":0.37,"y":0.31},{"x":0.27,"y":0.22},{"x":0.17,"y":0.13},
{"x":0.45,"y":0.42},{"x":0.5,"y":0.47},{"x":0.55,"y":0.52},{"x":0.6,"y":0.58},{"x":0.65,"y":0.62},{"x":0.33,"y":0.24},{"x":0.43,"y":0.33},{"x":0.53,"y":0.42},{"x":0.63,"y":0.52},
{"x":0.62,"y":0.72},{"x":0.66,"y":0.8},{"x":0.69,"y":0.88},{"x":0.71,"y":0.95},{"x":0.74,"y":1.02},{"x":0.76,"y":1.09},{"x":0.785,"y":1.16},{"x":0.81,"y":1.23},{"x":0.835,"y":1.3},{"x":0.86,"y":1.37},{"x":0.885,"y":1.43},{"x":0.91,"y":1.48},{"x":0.935,"y":1.53},{"x":0.96,"y":1.58},{"x":0.985,"y":1.61},{"x":1.0,"y":1.6},{"x":0.8,"y":1.12},{"x":0.85,"y":1.25},{"x":0.9,"y":1.4},{"x":0.75,"y":1.0},{"x":0.95,"y":1.5},{"x":0.87,"y":1.33},{"x":0.82,"y":1.2},
{"x":0.64,"y":0.76},{"x":0.68,"y":0.84},{"x":0.72,"y":0.92},{"x":0.75,"y":1.05},{"x":0.78,"y":1.12},{"x":0.8,"y":1.18},{"x":0.83,"y":1.25},{"x":0.86,"y":1.32},{"x":0.88,"y":1.38},{"x":0.91,"y":1.44},{"x":0.94,"y":1.5},{"x":0.97,"y":1.55},{"x":1.0,"y":1.55},{"x":0.93,"y":1.42},{"x":0.9,"y":1.32},{"x":0.86,"y":1.2},{"x":0.82,"y":1.08},{"x":0.78,"y":0.98},{"x":0.74,"y":0.9},
{"x":0.75,"y":0.85},{"x":0.8,"y":0.92},{"x":0.85,"y":1.0},{"x":0.885,"y":1.08},{"x":0.92,"y":1.14},{"x":0.96,"y":1.2},{"x":0.985,"y":1.26},{"x":1.02,"y":1.32},{"x":1.06,"y":1.38},{"x":1.1,"y":1.44},{"x":1.14,"y":1.5},{"x":1.17,"y":1.56},{"x":1.2,"y":1.62},{"x":1.235,"y":1.68},{"x":1.27,"y":1.74},{"x":1.3,"y":1.8},{"x":1.32,"y":1.83},{"x":1.0,"y":1.22},{"x":1.05,"y":1.3},{"x":1.12,"y":1.42},{"x":1.18,"y":1.52},{"x":1.25,"y":1.65},{"x":0.9,"y":1.05},{"x":0.95,"y":1.15},
{"x":0.78,"y":0.86},{"x":0.83,"y":0.94},{"x":0.88,"y":1.02},{"x":0.92,"y":1.08},{"x":0.97,"y":1.16},{"x":1.01,"y":1.24},{"x":1.05,"y":1.34},{"x":1.09,"y":1.4},{"x":1.13,"y":1.46},{"x":1.16,"y":1.5},{"x":1.2,"y":1.57},{"x":1.24,"y":1.63},{"x":1.28,"y":1.7},{"x":1.3,"y":1.75},{"x":1.15,"y":1.46},{"x":1.08,"y":1.34},{"x":1.22,"y":1.58},
{"x":0.72,"y":0.68},{"x":0.78,"y":0.72},{"x":0.82,"y":0.76},{"x":0.86,"y":0.79},{"x":0.9,"y":0.83},{"x":0.95,"y":0.87},{"x":0.985,"y":0.91},{"x":1.03,"y":0.94},{"x":1.07,"y":0.97},{"x":1.11,"y":1.0},{"x":1.15,"y":1.03},{"x":1.2,"y":1.06},{"x":1.235,"y":1.08},{"x":1.28,"y":1.12},{"x":1.32,"y":1.15},{"x":1.36,"y":1.19},{"x":1.4,"y":1.22},{"x":1.445,"y":1.25},{"x":1.485,"y":1.29},{"x":1.53,"y":1.33},{"x":1.57,"y":1.38},{"x":1.61,"y":1.44},{"x":1.65,"y":1.46},{"x":1.7,"y":1.5},{"x":1.74,"y":1.52},{"x":1.78,"y":1.56},{"x":1.8,"y":1.58},{"x":1.75,"y":1.55},{"x":1.6,"y":1.4},{"x":1.5,"y":1.32},{"x":1.38,"y":1.2},{"x":1.25,"y":1.1},{"x":1.12,"y":1.02},{"x":1.0,"y":0.93},{"x":0.88,"y":0.82},{"x":0.8,"y":0.74},
{"x":0.76,"y":0.7},{"x":0.84,"y":0.75},{"x":0.92,"y":0.82},{"x":0.97,"y":0.85},{"x":1.05,"y":0.92},{"x":1.13,"y":0.98},{"x":1.18,"y":1.02},{"x":1.26,"y":1.07},{"x":1.34,"y":1.14},{"x":1.42,"y":1.2},{"x":1.47,"y":1.26},{"x":1.55,"y":1.32},{"x":1.63,"y":1.4},{"x":1.68,"y":1.46},{"x":1.72,"y":1.48},{"x":1.77,"y":1.52},{"x":1.05,"y":0.98},{"x":1.3,"y":1.16},{"x":1.55,"y":1.38},
{"x":0.69,"y":0.5}
]
},
"columns": 2,
"spacing": {"row": 32, "column": 49},
"bounds": "flush",
"concat": [
{"width": 263, "height": 190, "layer": [
 {"data": {"name": "a"}, "mark": "circle", "encoding": {
  "x": {"field": "x", "type": "quantitative", "scale": {"domain": [-0.195, 4.21], "nice": false, "zero": false}, "axis": {"values": [0,1,2,3,4], "format": "d", "title": null}},
  "y": {"field": "y", "type": "quantitative", "scale": {"domain": [-0.245, 4.95], "nice": false, "zero": false}, "axis": {"values": [0,1,2,3,4], "format": "d", "title": "Full demography"}}}},
 {"data": {"values": [{"x": 0, "y": 0, "x2": 4, "y2": 4}]}, "mark": "rule", "encoding": {"x": {"field": "x", "type": "quantitative"}, "y": {"field": "y", "type": "quantitative"}, "x2": {"field": "x2"}, "y2": {"field": "y2"}}},
 {"data": {"values": [{"t": "(a) LAI", "x": 1.13, "y": 4.46}, {"t": "(m²/m²)", "x": 1.13, "y": 3.78}]}, "mark": "text", "encoding": {"x": {"field": "x", "type": "quantitative"}, "y": {"field": "y", "type": "quantitative"}, "text": {"field": "t"}}}
]},
{"width": 263, "height": 190, "layer": [
 {"data": {"name": "b"}, "mark": "circle", "encoding": {
  "x": {"field": "x", "type": "quantitative", "scale": {"domain": [-0.16, 3.42], "nice": false, "zero": false}, "axis": {"values": [0,1,2,3], "format": "d", "title": null}},
  "y": {"field": "y", "type": "quantitative", "scale": {"domain": [-0.17, 3.49], "nice": false, "zero": false}, "axis": {"values": [0,1,2,3], "format": "d", "title": null}}}},
 {"data": {"values": [{"x": 0, "y": 0, "x2": 3, "y2": 3}]}, "mark": "rule", "encoding": {"x": {"field": "x", "type": "quantitative"}, "y": {"field": "y", "type": "quantitative"}, "x2": {"field": "x2"}, "y2": {"field": "y2"}}},
 {"data": {"values": [{"t": "(b) GPP", "x": 0.91, "y": 3.19}, {"t": "(kgC/m²/yr)", "x": 0.9, "y": 2.68}]}, "mark": "text", "encoding": {"x": {"field": "x", "type": "quantitative"}, "y": {"field": "y", "type": "quantitative"}, "text": {"field": "t"}}}
]},
{"width": 263, "height": 190, "layer": [
 {"data": {"name": "c"}, "mark": {"type": "circle", "size": 46}, "encoding": {
  "x": {"field": "x", "type": "quantitative", "scale": {"domain": [-1.52, 32.9], "nice": false, "zero": false}, "axis": {"values": [0,10,20,30], "format": "d", "title": null}},
  "y": {"field": "y", "type": "quantitative", "scale": {"domain": [-1.95, 44.4], "nice": false, "zero": false}, "axis": {"values": [0,10,20,30,40], "format": "d", "title": "Full Demography"}}}},
 {"data": {"values": [{"x": 0, "y": 0, "x2": 30, "y2": 30}]}, "mark": "rule", "encoding": {"x": {"field": "x", "type": "quantitative"}, "y": {"field": "y", "type": "quantitative"}, "x2": {"field": "x2"}, "y2": {"field": "y2"}}},
 {"data": {"values": [{"t": "(c) Height", "x": 8.88, "y": 39.8}, {"t": "(m)", "x": 8.8, "y": 34.1}]}, "mark": "text", "encoding": {"x": {"field": "x", "type": "quantitative"}, "y": {"field": "y", "type": "quantitative"}, "text": {"field": "t"}}}
]},
{"width": 263, "height": 190, "layer": [
 {"data": {"name": "d"}, "mark": "circle", "encoding": {
  "x": {"field": "x", "type": "quantitative", "scale": {"domain": [-1.78, 39.6], "nice": false, "zero": false}, "axis": {"values": [0,10,20,30], "format": "d", "title": null}},
  "y": {"field": "y", "type": "quantitative", "scale": {"domain": [-1.75, 38.1], "nice": false, "zero": false}, "axis": {"values": [0,10,20,30], "format": "d", "title": null}}}},
 {"data": {"values": [{"x": 0, "y": 0, "x2": 35, "y2": 35}]}, "mark": "rule", "encoding": {"x": {"field": "x", "type": "quantitative"}, "y": {"field": "y", "type": "quantitative"}, "x2": {"field": "x2"}, "y2": {"field": "y2"}}},
 {"data": {"values": [{"t": "(d) Plant C", "x": 10.55, "y": 34.6}, {"t": "(kgC/m²)", "x": 10.55, "y": 29.1}]}, "mark": "text", "encoding": {"x": {"field": "x", "type": "quantitative"}, "y": {"field": "y", "type": "quantitative"}, "text": {"field": "t"}}}
]},
{"width": 263, "height": 190, "layer": [
 {"data": {"name": "e"}, "mark": {"type": "circle", "size": 66}, "encoding": {
  "x": {"field": "x", "type": "quantitative", "scale": {"domain": [-2.3, 50.2], "nice": false, "zero": false}, "axis": {"values": [0,10,20,30,40], "format": "d", "labelOverlap": false, "title": "Single Cohort"}},
  "y": {"field": "y", "type": "quantitative", "scale": {"domain": [-2.3, 50.06], "nice": false, "zero": false}, "axis": {"values": [0,10,20,30,40,50], "format": "d", "labelOverlap": false, "labelBound": false, "title": "Full Demography"}}}},
 {"data": {"name": "eo"}, "mark": "circle", "encoding": {
  "x": {"field": "x", "type": "quantitative", "axis": {"values": [0,10,20,30,40], "format": "d", "labelOverlap": false, "title": "Single Cohort"}},
  "y": {"field": "y", "type": "quantitative", "axis": {"values": [0,10,20,30,40,50], "format": "d", "labelOverlap": false, "title": "Full Demography"}}}},
 {"data": {"values": [{"x": 0, "y": 0, "x2": 45, "y2": 45}]}, "mark": "rule", "encoding": {"x": {"field": "x", "type": "quantitative", "axis": {"values": [0,10,20,30,40], "format": "d", "labelOverlap": false, "title": "Single Cohort"}}, "y": {"field": "y", "type": "quantitative", "axis": {"values": [0,10,20,30,40,50], "format": "d", "labelOverlap": false, "title": "Full Demography"}}, "x2": {"field": "x2"}, "y2": {"field": "y2"}}},
 {"data": {"values": [{"t": "(e) Soil C", "x": 13.4, "y": 46.0}, {"t": "(kgC/m²)", "x": 13.4, "y": 38.6}]}, "mark": "text", "encoding": {"x": {"field": "x", "type": "quantitative", "axis": {"values": [0,10,20,30,40], "format": "d", "labelOverlap": false, "title": "Single Cohort"}}, "y": {"field": "y", "type": "quantitative", "axis": {"values": [0,10,20,30,40,50], "format": "d", "labelOverlap": false, "title": "Full Demography"}}, "text": {"field": "t"}}}
]},
{"width": 263, "height": 190, "layer": [
 {"data": {"name": "f"}, "mark": "circle", "encoding": {
  "x": {"field": "x", "type": "quantitative", "scale": {"domain": [-0.088, 1.885], "nice": false, "zero": false}, "axis": {"values": [0,0.5,1,1.5], "format": ".1f", "title": "Single Cohort"}},
  "y": {"field": "y", "type": "quantitative", "scale": {"domain": [-0.092, 1.91], "nice": false, "zero": false}, "axis": {"values": [0,0.5,1,1.5], "format": ".1f", "title": null}}}},
 {"data": {"values": [{"x": 0, "y": 0, "x2": 1.8, "y2": 1.8}]}, "mark": "rule", "encoding": {"x": {"field": "x", "type": "quantitative"}, "y": {"field": "y", "type": "quantitative"}, "x2": {"field": "x2"}, "y2": {"field": "y2"}}},
 {"data": {"values": [{"t": "(f) Rh", "x": 0.51, "y": 1.75}, {"t": "(kgC/m²/yr)", "x": 0.5, "y": 1.47}]}, "mark": "text", "encoding": {"x": {"field": "x", "type": "quantitative"}, "y": {"field": "y", "type": "quantitative"}, "text": {"field": "t"}}}
]}
]
}
